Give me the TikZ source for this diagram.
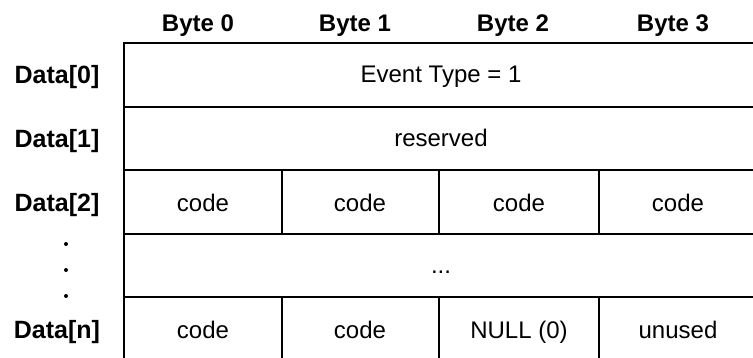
\documentclass[tikz,border=0pt]{standalone}
\usepackage{fontspec}
\setmainfont{Liberation Sans}
\begin{document}
\begin{tikzpicture}[x=1pt,y=-1pt,line width=2.2pt,
  hdr/.style={font=\fontsize{24}{28}\selectfont\bfseries,inner sep=0pt,anchor=base},
  lbl/.style={font=\fontsize{25}{29}\selectfont\bfseries,inner sep=0pt,anchor=base},
  cell/.style={font=\fontsize{24}{28}\selectfont,inner sep=0pt,anchor=base},
  dotmark/.style={circle,fill=black,inner sep=0pt,minimum size=4pt}]
\useasboundingbox (0,0) rectangle (753,358);
% table lines
\draw (124,360) -- (124,43) -- (760,43);
\draw (124,107) -- (760,107);
\draw (124,170) -- (760,170);
\draw (124,234) -- (760,234);
\draw (124,297) -- (760,297);
\foreach \x in {282,439,599} {
  \draw (\x,170) -- (\x,234);
  \draw (\x,297) -- (\x,360);
}
% headers
\node[hdr] (b0) at (198,32) {Byte 0};
\node[hdr] (b1) at (355,32) {Byte 1};
\node[hdr] (b2) at (513,32) {Byte 2};
\node[hdr] (b3) at (673,32) {Byte 3};
% row labels
\node[lbl] (d0) at (57,84) {Data[0]};
\node[lbl] (d1) at (57,148) {Data[1]};
\node[lbl] (d2) at (57,212) {Data[2]};
\node[lbl] (dn) at (57,338) {Data[n]};
\node[dotmark] (dot1) at (66,244) {};
\node[dotmark] (dot2) at (66,270) {};
\node[dotmark] (dot3) at (66,296) {};
% cells
\node[cell] (ev) at (441,83) {Event Type = 1};
\node[cell] (res) at (441,147) {reserved};
\node[cell] (c20) at (203,212) {code};
\node[cell] (c21) at (360,212) {code};
\node[cell] (c22) at (519,212) {code};
\node[cell] (c23) at (678,212) {code};
\node[cell] (ell) at (441,274) {...};
\node[cell] (cn0) at (203,338) {code};
\node[cell] (cn1) at (360,338) {code};
\node[cell] (cn2) at (519,338) {NULL (0)};
\node[cell] (cn3) at (678,338) {unused};
\end{tikzpicture}
\end{document}
